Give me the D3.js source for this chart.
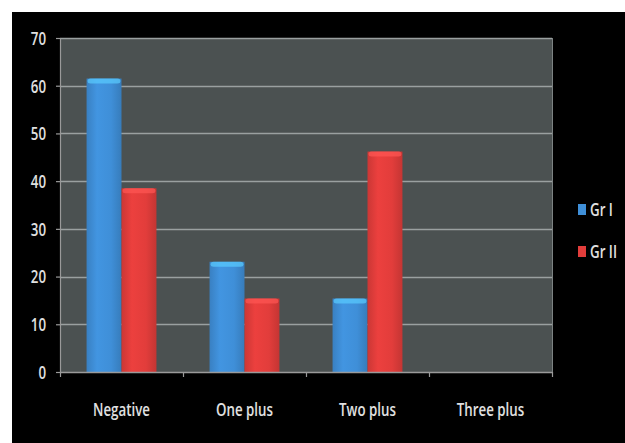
<!DOCTYPE html>
<html>
<head>
<meta charset="utf-8">
<script src="https://cdn.jsdelivr.net/npm/d3@7"></script>
<style>
  html, body { margin: 0; padding: 0; background: #ffffff; }
  svg { display: block; }
  text { font-family: "Open Sans", "DejaVu Sans", sans-serif; font-weight: 600; }
</style>
</head>
<body>
<div id="chart"></div>
<script>
// Grade categories and the share (%) of each group falling in them
const categories = ["Negative", "One plus", "Two plus", "Three plus"];
const seriesNames = ["Gr I", "Gr II"];
const grI = [61.5, 23.1, 15.4, 0];
const grII = [38.5, 15.4, 46.2, 0];
const yTicks = [0, 10, 20, 30, 40, 50, 60, 70];
const seriesColors = ["#3f8fd8", "#e23d3b"];

const W = 625, H = 443;
const plot = { left: 60, top: 38, right: 552, bottom: 372 };
const textColor = "#e0e0e0";
const fontSize = 18;
const narrow = 0.74; // horizontal squeeze for the condensed lettering

const svg = d3.select("#chart").append("svg")
  .attr("width", W).attr("height", H);

// black chart frame inside a thin white margin
svg.append("rect").attr("x", 12).attr("y", 12).attr("width", W - 12).attr("height", H - 12)
  .attr("fill", "#000000");

const defs = svg.append("defs");
seriesColors.forEach((c, i) => {
  const g = defs.append("linearGradient").attr("id", "barGrad" + i)
    .attr("x1", "0%").attr("x2", "100%").attr("y1", "0%").attr("y2", "0%");
  const base = d3.color(c);
  g.append("stop").attr("offset", "0%").attr("stop-color", base.darker(0.3));
  g.append("stop").attr("offset", "30%").attr("stop-color", base.brighter(0.12));
  g.append("stop").attr("offset", "70%").attr("stop-color", base);
  g.append("stop").attr("offset", "100%").attr("stop-color", base.darker(0.4));
});

const x0 = d3.scaleBand().domain(categories).range([plot.left, plot.right]).paddingInner(0).paddingOuter(0);
const x1 = d3.scaleBand().domain(seriesNames).range([0, x0.bandwidth()]).paddingInner(0).paddingOuter(0.76);
const y = d3.scaleLinear().domain([0, 70]).range([plot.bottom, plot.top]);

// plot area
svg.append("rect")
  .attr("x", plot.left).attr("y", plot.top)
  .attr("width", plot.right - plot.left).attr("height", plot.bottom - plot.top)
  .attr("fill", "#4b5151");

// horizontal gridlines
svg.append("g").selectAll("line").data(yTicks.filter(d => d > 0)).join("line")
  .attr("x1", plot.left).attr("x2", plot.right)
  .attr("y1", d => Math.round(y(d)) + 0.5).attr("y2", d => Math.round(y(d)) + 0.5)
  .attr("stroke", "#9aa0a0").attr("stroke-width", 1.3);

// right edge of plot area
svg.append("line").attr("x1", plot.right + 0.5).attr("x2", plot.right + 0.5)
  .attr("y1", plot.top).attr("y2", plot.bottom).attr("stroke", "#7d8383").attr("stroke-width", 1);

// bars
const rows = categories.map((c, i) => ({ cat: c, vals: [grI[i], grII[i]] }));
const groups = svg.append("g").selectAll("g").data(rows).join("g")
  .attr("transform", d => `translate(${x0(d.cat)},0)`);

groups.each(function (d) {
  const g = d3.select(this);
  d.vals.forEach((v, i) => {
    if (v <= 0) return;
    const bx = x1(seriesNames[i]);
    const bw = x1.bandwidth();
    const top = y(v);
    g.append("rect").attr("x", bx).attr("y", top)
      .attr("width", bw).attr("height", y(0) - top)
      .attr("fill", `url(#barGrad${i})`);
    // glossy cap along the top of each bar
    g.append("rect").attr("x", bx + 1).attr("y", top)
      .attr("width", bw - 2).attr("height", 5).attr("rx", 3)
      .attr("fill", d3.color(seriesColors[i]).brighter(1.0)).attr("opacity", 0.7);
  });
});

// x axis
const xAxis = d3.axisBottom(x0).tickSize(0).tickPadding(0);
const xg = svg.append("g").attr("transform", `translate(0,${plot.bottom})`).call(xAxis);
xg.select(".domain").remove();
xg.selectAll("text").attr("fill", textColor).attr("font-size", fontSize)
  .attr("dy", 0).attr("y", 0)
  .attr("transform", `translate(0,44) scale(${narrow},1)`);
svg.append("line").attr("x1", plot.left).attr("x2", plot.right)
  .attr("y1", plot.bottom + 0.5).attr("y2", plot.bottom + 0.5)
  .attr("stroke", "#9a9a9a").attr("stroke-width", 1.5);
// tick marks at category boundaries
const bounds = categories.map(c => x0(c)).concat([plot.right]);
svg.append("g").selectAll("line").data(bounds).join("line")
  .attr("x1", d => d + 0.5).attr("x2", d => d + 0.5)
  .attr("y1", plot.bottom).attr("y2", plot.bottom + 5)
  .attr("stroke", "#9a9a9a").attr("stroke-width", 1.2);

// y axis
const yAxis = d3.axisLeft(y).tickValues(yTicks).tickSize(4).tickPadding(0).tickFormat(d3.format("d"));
const yg = svg.append("g").attr("transform", `translate(${plot.left},0)`).call(yAxis);
yg.select(".domain").attr("stroke", "#9a9a9a").attr("stroke-width", 1.2);
yg.selectAll(".tick line").attr("stroke", "#9a9a9a").attr("stroke-width", 1.2);
yg.selectAll("text").attr("fill", textColor).attr("font-size", fontSize)
  .attr("x", 0).attr("dy", "0.35em")
  .attr("transform", `translate(-14,0) scale(${narrow},1)`);

// legend
const legend = svg.append("g").attr("transform", "translate(578,0)");
const legendY = [210, 252];
seriesNames.forEach((n, i) => {
  legend.append("rect").attr("x", 0).attr("y", legendY[i] - 6).attr("width", 8).attr("height", 11)
    .attr("fill", seriesColors[i]);
  legend.append("text").attr("x", 0).attr("y", 0).attr("dy", "0.35em")
    .attr("transform", `translate(12,${legendY[i]}) scale(${narrow},1)`)
    .attr("fill", textColor).attr("font-size", fontSize).text(n);
});
</script>
</body>
</html>
